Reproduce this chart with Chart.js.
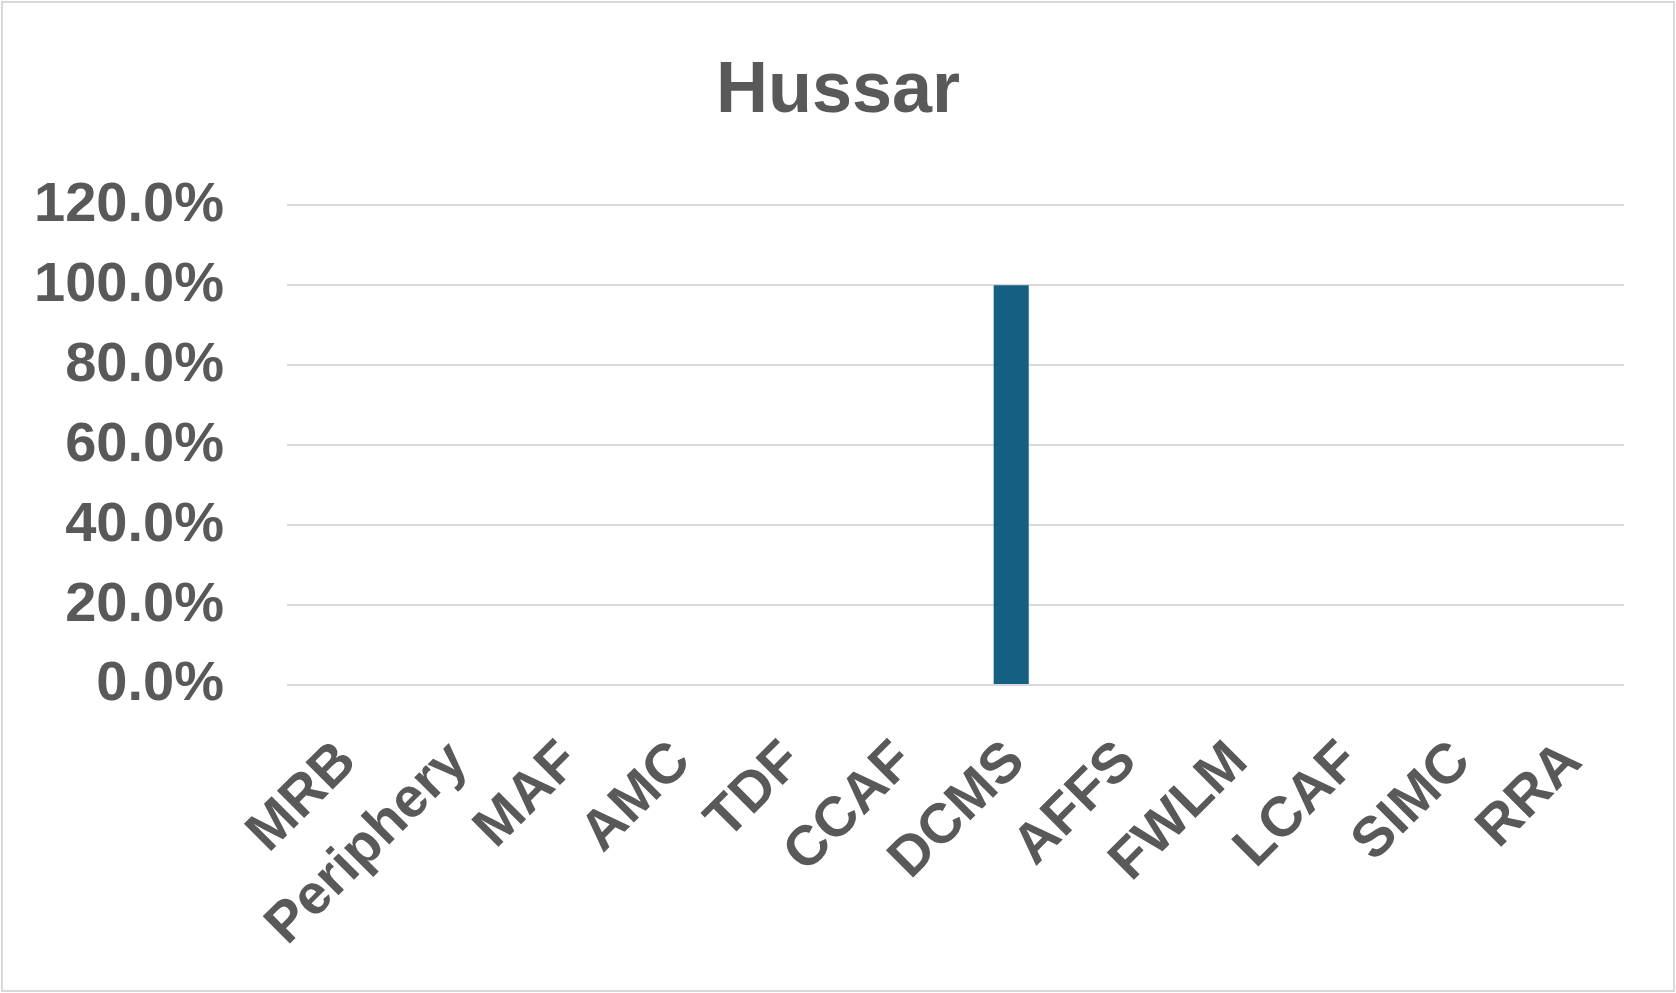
<!DOCTYPE html>
<html>
<head>
<meta charset="utf-8">
<script src="https://cdn.jsdelivr.net/npm/chart.js@4.4.1/dist/chart.umd.min.js"></script>
<style>
  html, body { margin: 0; padding: 0; background: #ffffff; }
  #wrap { width: 1676px; height: 993px; position: relative; }
  canvas { display: block; }
</style>
</head>
<body>
<div id="wrap"><canvas id="c" width="1676" height="993"></canvas></div>
<script>
const chartTitle = "Hussar";
const categories = ["MRB", "Periphery", "MAF", "AMC", "TDF", "CCAF", "DCMS", "AFFS", "FWLM", "LCAF", "SIMC", "RRA"];
const shareValues = [0, 0, 0, 0, 0, 0, 1.0, 0, 0, 0, 0, 0];
const yTickMin = 0;
const yTickMax = 1.2;
const yTickStep = 0.2;

const textColor = "#595959";
const fontFamily = "'Liberation Sans', Arial, sans-serif";

const borderPlugin = {
  id: 'outerBorder',
  beforeDraw(chart) {
    const ctx = chart.ctx;
    ctx.save();
    ctx.fillStyle = '#ffffff';
    ctx.fillRect(0, 0, chart.width, chart.height);
    ctx.strokeStyle = '#d9d9d9';
    ctx.lineWidth = 2;
    ctx.strokeRect(2, 2, chart.width - 4, chart.height - 4);
    ctx.restore();
  }
};

new Chart(document.getElementById('c'), {
  type: 'bar',
  data: {
    labels: categories,
    datasets: [{
      label: chartTitle,
      data: shareValues,
      backgroundColor: '#156082',
      borderWidth: 0,
      categoryPercentage: 1.0,
      barPercentage: 0.315
    }]
  },
  options: {
    responsive: false,
    animation: false,
    devicePixelRatio: 1,
    layout: { padding: 0 },
    plugins: {
      legend: { display: false },
      tooltip: { enabled: false },
      title: {
        display: true,
        text: chartTitle,
        color: textColor,
        font: { family: fontFamily, size: 72, weight: 'bold', lineHeight: 1.2 },
        padding: { top: 49, bottom: 70 }
      }
    },
    scales: {
      x: {
        grid: { display: false, drawTicks: false },
        border: { display: false },
        ticks: {
          color: textColor,
          font: { family: fontFamily, size: 56, weight: 'bold' },
          minRotation: 45,
          maxRotation: 45,
          autoSkip: false,
          padding: 44,
          labelOffset: 5
        },
        afterFit(scale) {
          scale.height = 993 - 685;
          scale.paddingLeft = 0;
          scale.paddingRight = 0;
        }
      },
      y: {
        min: yTickMin,
        max: yTickMax,
        grid: { color: '#d9d9d9', lineWidth: 2, drawTicks: false },
        border: { display: false },
        ticks: {
          stepSize: yTickStep,
          color: textColor,
          font: { family: fontFamily, size: 56, weight: 'bold' },
          padding: 63,
          callback: (v) => (v * 100).toFixed(1) + '%'
        },
        afterFit(scale) {
          scale.width = 287;
          scale.paddingTop = 0;
          scale.paddingBottom = 0;
        }
      },
      rightSpace: {
        type: 'linear',
        position: 'right',
        display: true,
        grid: { display: false, drawTicks: false },
        border: { display: false },
        ticks: { display: false },
        afterFit(scale) { scale.width = 1676 - 1624; }
      }
    }
  },
  plugins: [borderPlugin]
});
</script>
</body>
</html>
